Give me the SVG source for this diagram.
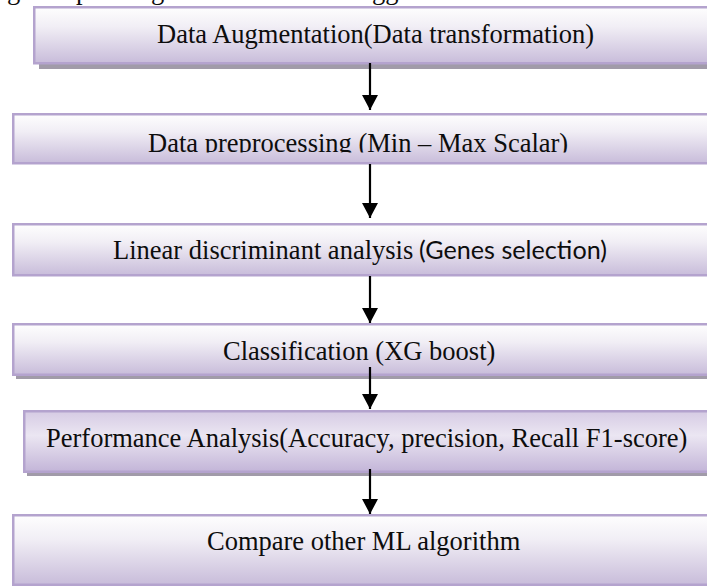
<svg xmlns="http://www.w3.org/2000/svg" width="707" height="586" viewBox="0 0 707 586">
  <defs>
    <linearGradient id="boxFill" x1="0" y1="0" x2="0" y2="1">
      <stop offset="0" stop-color="#fefefe"/>
      <stop offset="0.35" stop-color="#f1eef5"/>
      <stop offset="1" stop-color="#c8bcda"/>
    </linearGradient>
    <linearGradient id="boxFillDark" x1="0" y1="0" x2="0" y2="1">
      <stop offset="0" stop-color="#d6cbe4"/>
      <stop offset="0.4" stop-color="#ebe6f2"/>
      <stop offset="1" stop-color="#c3b5d8"/>
    </linearGradient>
    <!-- triangle drawn along +x so orient="auto" turns it to the line direction -->
    <marker id="arrowHead" viewBox="0 0 15 16" refX="15" refY="8" markerWidth="15" markerHeight="16" markerUnits="userSpaceOnUse" orient="auto">
      <path d="M0,0 L15,8 L0,16 Z" fill="#000"/>
    </marker>
    <clipPath id="clipPre">
      <rect x="0" y="113" width="707" height="39.5"/>
    </clipPath>
  </defs>
  <style>
    .box { fill: url(#boxFill); stroke: #b4a3ce; stroke-width: 2.5; }
    .boxDark { fill: url(#boxFillDark); stroke: #b4a3ce; stroke-width: 2.5; }
    .shadow { fill: #a19ba9; }
    .label { font-family: "Liberation Serif", "Times New Roman", serif; font-size: 26.5px; fill: #0d0d0d; }
    .sans { font-family: Lato, "Noto Sans", "Liberation Sans", sans-serif; font-size: 25px; fill: #0d0d0d; }
    .arrow { stroke: #000; stroke-width: 2.2; fill: none; }
  </style>

  <!-- descenders of the line of text above the chart -->
  <g id="caption-tail">
    <text class="label" x="7" y="-1.5">g</text>
    <text class="label" x="76" y="-1.5">p</text>
    <text class="label" x="151" y="-1.5">g</text>
    <text class="label" x="372" y="-1.5">gg</text>
  </g>

  <g id="augmentation">
    <rect class="shadow" x="39" y="12" width="700" height="57"/>
    <rect class="box" x="34.25" y="7.25" width="700" height="56"/>
    <text class="label" x="157" y="43">Data Augmentation(Data transformation)</text>
  </g>

  <g id="preprocessing">
    <rect class="box" x="13.25" y="114.25" width="720" height="49"/>
    <text class="label" x="148" y="151.5" clip-path="url(#clipPre)">Data preprocessing (Min – Max Scalar)</text>
  </g>

  <g id="lda">
    <rect class="box" x="13.25" y="224.25" width="720" height="51"/>
    <text class="label" x="113" y="259">Linear discriminant analysis</text>
    <text class="sans" x="419" y="259" textLength="188" lengthAdjust="spacingAndGlyphs">(Genes selection)</text>
  </g>

  <g id="classification">
    <rect class="shadow" x="16" y="327" width="720" height="52"/>
    <rect class="box" x="13.25" y="324.25" width="720" height="50.5"/>
    <text class="label" x="223" y="360">Classification (XG boost)</text>
  </g>

  <g id="performance">
    <rect class="shadow" x="27" y="414" width="700" height="62"/>
    <rect class="boxDark" x="24.25" y="411.25" width="700" height="60.5"/>
    <text class="label" x="46" y="447">Performance Analysis(Accuracy, precision, Recall F1-score)</text>
  </g>

  <g id="compare">
    <rect class="box" x="13.25" y="515.25" width="720" height="69.5"/>
    <text class="label" x="207" y="550">Compare other ML algorithm</text>
  </g>

  <g id="connectors">
    <line class="arrow" x1="370" y1="63" x2="370" y2="110" marker-end="url(#arrowHead)"/>
    <line class="arrow" x1="370" y1="164" x2="370" y2="218" marker-end="url(#arrowHead)"/>
    <line class="arrow" x1="370" y1="276" x2="370" y2="323" marker-end="url(#arrowHead)"/>
    <line class="arrow" x1="370" y1="367" x2="370" y2="409" marker-end="url(#arrowHead)"/>
    <line class="arrow" x1="370" y1="469" x2="370" y2="514" marker-end="url(#arrowHead)"/>
  </g>
</svg>
